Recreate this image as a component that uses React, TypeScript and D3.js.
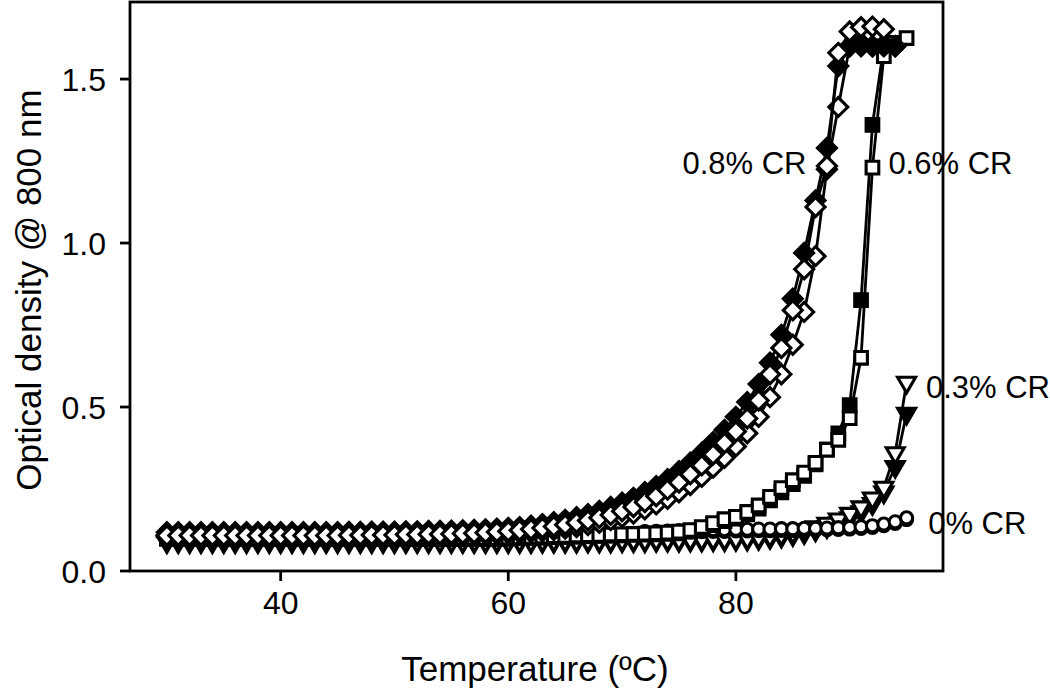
import React from "react";
import * as d3 from "d3";

// Temperature (ºC), one reading per degree
const TEMPS = [30,31,32,33,34,35,36,37,38,39,40,41,42,43,44,45,46,47,48,49,50,51,52,53,54,55,56,57,58,59,60,61,62,63,64,65,66,67,68,69,70,71,72,73,74,75,76,77,78,79,80,81,82,83,84,85,86,87,88,89,90,91,92,93,94,95];

// 0.8% CR, filled diamonds
const CR08_FILLED = [0.118,0.118,0.118,0.118,0.118,0.118,0.118,0.118,0.118,0.118,0.118,0.118,0.118,0.118,0.118,0.118,0.119,0.119,0.12,0.12,0.12,0.121,0.121,0.122,0.122,0.123,0.124,0.125,0.127,0.129,0.131,0.134,0.138,0.143,0.149,0.156,0.164,0.173,0.183,0.195,0.208,0.223,0.24,0.259,0.28,0.304,0.33,0.36,0.393,0.43,0.47,0.515,0.57,0.635,0.72,0.83,0.97,1.13,1.29,1.54,1.6,1.61,1.6,1.605,1.6,null];
// 0.8% CR, open diamonds (run A)
const CR08_OPEN_A = [0.108,0.108,0.108,0.108,0.108,0.108,0.108,0.108,0.108,0.108,0.108,0.108,0.108,0.108,0.108,0.108,0.109,0.109,0.11,0.11,0.11,0.111,0.111,0.112,0.112,0.113,0.114,0.115,0.117,0.119,0.121,0.124,0.127,0.131,0.136,0.141,0.147,0.154,0.162,0.171,0.182,0.195,0.21,0.228,0.248,0.27,0.295,0.322,0.355,0.39,0.425,0.465,0.52,0.6,0.68,0.795,0.92,1.11,1.235,1.58,1.645,1.658,1.66,1.652,null,null];
// 0.8% CR, open diamonds (run B)
const CR08_OPEN_B = [0.104,0.104,0.104,0.104,0.104,0.104,0.104,0.104,0.104,0.104,0.104,0.104,0.104,0.104,0.104,0.104,0.104,0.105,0.105,0.105,0.106,0.106,0.107,0.107,0.108,0.108,0.109,0.11,0.111,0.112,0.114,0.116,0.118,0.121,0.125,0.129,0.134,0.14,0.147,0.155,0.164,0.175,0.188,0.203,0.22,0.24,0.262,0.287,0.315,0.345,0.38,0.42,0.47,0.53,0.6,0.69,0.79,0.96,1.225,1.415,1.6,1.6,1.6,1.6,1.6,null];
// 0.6% CR
const CR06_OPEN = [0.1,0.1,0.1,0.1,0.1,0.1,0.1,0.1,0.1,0.1,0.1,0.1,0.1,0.1,0.1,0.1,0.1,0.1,0.1,0.1,0.1,0.1,0.1,0.1,0.1,0.1,0.1,0.1,0.1,0.1,0.102,0.103,0.104,0.105,0.106,0.107,0.108,0.109,0.11,0.111,0.112,0.113,0.114,0.115,0.117,0.12,0.125,0.134,0.146,0.158,0.165,0.18,0.2,0.226,0.253,0.277,0.3,0.33,0.37,0.4,0.466,0.65,1.23,1.57,1.61,1.625];
const CR06_FILLED = [0.098,0.098,0.098,0.098,0.098,0.098,0.098,0.098,0.098,0.098,0.098,0.098,0.098,0.098,0.098,0.098,0.098,0.098,0.098,0.098,0.098,0.098,0.098,0.098,0.098,0.098,0.098,0.098,0.098,0.098,0.099,0.1,0.101,0.102,0.103,0.104,0.105,0.106,0.107,0.108,0.109,0.11,0.111,0.112,0.113,0.115,0.12,0.128,0.14,0.152,0.16,0.173,0.19,0.215,0.24,0.265,0.29,0.325,0.37,0.42,0.506,0.826,1.36,1.6,1.61,null];
// 0.3% CR
const CR03_OPEN = [0.092,0.092,0.092,0.092,0.092,0.092,0.092,0.092,0.092,0.092,0.092,0.092,0.092,0.092,0.092,0.092,0.092,0.092,0.092,0.092,0.092,0.092,0.092,0.092,0.092,0.092,0.092,0.092,0.092,0.092,0.092,0.092,0.092,0.093,0.093,0.093,0.093,0.094,0.094,0.094,0.095,0.095,0.095,0.096,0.096,0.096,0.097,0.097,0.098,0.098,0.099,0.1,0.103,0.107,0.112,0.118,0.125,0.134,0.145,0.158,0.175,0.195,0.222,0.255,0.36,0.575];
const CR03_FILLED = [0.088,0.088,0.088,0.088,0.088,0.088,0.088,0.088,0.088,0.088,0.088,0.088,0.088,0.088,0.088,0.088,0.088,0.088,0.088,0.088,0.088,0.088,0.088,0.088,0.088,0.088,0.088,0.088,0.088,0.088,0.088,0.088,0.088,0.089,0.089,0.089,0.089,0.09,0.09,0.09,0.091,0.091,0.091,0.092,0.092,0.092,0.093,0.093,0.094,0.094,0.095,0.096,0.098,0.101,0.105,0.11,0.116,0.124,0.134,0.146,0.162,0.18,0.205,0.24,0.318,0.48];
// 0% CR
const CR00_OPEN = [0.1,0.1,0.1,0.1,0.1,0.1,0.1,0.1,0.1,0.1,0.1,0.1,0.1,0.1,0.1,0.1,0.1,0.1,0.1,0.1,0.1,0.1,0.1,0.1,0.1,0.1,0.1,0.1,0.1,0.1,0.1,0.102,0.103,0.104,0.105,0.106,0.107,0.108,0.109,0.11,0.111,0.115,0.12,0.121,0.122,0.123,0.124,0.125,0.126,0.126,0.127,0.127,0.128,0.128,0.129,0.129,0.13,0.13,0.131,0.132,0.133,0.135,0.138,0.143,0.15,0.162];
const CR00_FILLED = [0.097,0.097,0.097,0.097,0.097,0.097,0.097,0.097,0.097,0.097,0.097,0.097,0.097,0.097,0.097,0.097,0.097,0.097,0.097,0.097,0.097,0.097,0.097,0.097,0.097,0.097,0.097,0.097,0.097,0.097,0.097,0.099,0.1,0.101,0.102,0.103,0.104,0.105,0.106,0.107,0.108,0.111,0.115,0.116,0.117,0.118,0.119,0.12,0.121,0.121,0.122,0.122,0.123,0.123,0.124,0.124,0.125,0.125,0.126,0.127,0.128,0.13,0.133,0.138,0.145,0.157];

const X_TICKS = [40, 60, 80];
const Y_TICKS = [0.0, 0.5, 1.0, 1.5];

const LABELS = [
  { text: "0.8% CR", t: 86.2, v: 1.245, anchor: "end" },
  { text: "0.6% CR", t: 93.4, v: 1.245, anchor: "start" },
  { text: "0.3% CR", t: 96.7, v: 0.562, anchor: "start" },
  { text: "0% CR", t: 96.9, v: 0.147, anchor: "start" },
];

type Shape = "diamond" | "square" | "triangle" | "circle";
const SERIES: { values: (number | null)[]; shape: Shape; filled: boolean }[] = [
  { values: CR03_FILLED, shape: "triangle", filled: true },
  { values: CR03_OPEN, shape: "triangle", filled: false },
  { values: CR00_FILLED, shape: "circle", filled: true },
  { values: CR00_OPEN, shape: "circle", filled: false },
  { values: CR06_FILLED, shape: "square", filled: true },
  { values: CR06_OPEN, shape: "square", filled: false },
  { values: CR08_OPEN_B, shape: "diamond", filled: false },
  { values: CR08_FILLED, shape: "diamond", filled: true },
  { values: CR08_OPEN_A, shape: "diamond", filled: false },
];

const W = 1050, H = 691;
const FONT = "'Liberation Sans', Arial, Helvetica, sans-serif";

export default function App() {
  const x = d3.scaleLinear().domain([26.76, 98.2]).range([130, 943]);
  const y = d3.scaleLinear().domain([0, 1.735]).range([571, 2]);

  const sym = (s: Shape) => {
    if (s === "diamond") return d3.symbol(d3.symbolSquare, 180)();
    if (s === "square") return d3.symbol(d3.symbolSquare, 160)();
    if (s === "triangle") return d3.symbol(d3.symbolTriangle, 140)();
    return d3.symbol(d3.symbolCircle, 115)();
  };
  const rot = (s: Shape) => (s === "diamond" ? 45 : s === "triangle" ? 180 : 0);

  const line = d3
    .line<number | null>()
    .defined((d) => d != null)
    .x((_, i) => x(TEMPS[i]))
    .y((d) => y(d as number));

  return (
    <svg width={W} height={H} style={{ position: "absolute", left: 0, top: 0, background: "#fff" }} fontFamily={FONT}>
      <rect x={0} y={0} width={W} height={H} fill="#fff" />
      {SERIES.map((s, si) => (
        <g key={si}>
          <path d={line(s.values) || ""} fill="none" stroke="#000" strokeWidth={2.8} />
          {s.values.map((v, i) =>
            v == null ? null : (
              <path
                key={i}
                d={sym(s.shape) || ""}
                transform={`translate(${x(TEMPS[i])},${y(v)}) rotate(${rot(s.shape)})`}
                fill={s.filled ? "#000" : "#fff"}
                stroke="#000"
                strokeWidth={3.1}
              />
            )
          )}
        </g>
      ))}
      {/* frame */}
      <rect x={130} y={2} width={813} height={569} fill="none" stroke="#000" strokeWidth={2.8} />
      {/* y ticks */}
      {Y_TICKS.map((t) => (
        <g key={t}>
          <line x1={120} x2={130} y1={y(t)} y2={y(t)} stroke="#000" strokeWidth={2.8} />
          <text x={106} y={y(t)} dy="0.36em" textAnchor="end" fontSize={32}>
            {t.toFixed(1)}
          </text>
        </g>
      ))}
      {X_TICKS.map((t) => (
        <g key={t}>
          <line x1={x(t)} x2={x(t)} y1={571} y2={581} stroke="#000" strokeWidth={2.8} />
          <text x={x(t)} y={614} textAnchor="middle" fontSize={32}>
            {t}
          </text>
        </g>
      ))}
      <text x={535} y={681} textAnchor="middle" fontSize={35}>
        Temperature (ºC)
      </text>
      <text transform={`translate(41,290) rotate(-90)`} textAnchor="middle" fontSize={35}>
        Optical density @ 800 nm
      </text>
      {LABELS.map((l) => (
        <text key={l.text} x={x(l.t)} y={y(l.v)} dy="0.36em" textAnchor={l.anchor as any} fontSize={31}>
          {l.text}
        </text>
      ))}
    </svg>
  );
}
